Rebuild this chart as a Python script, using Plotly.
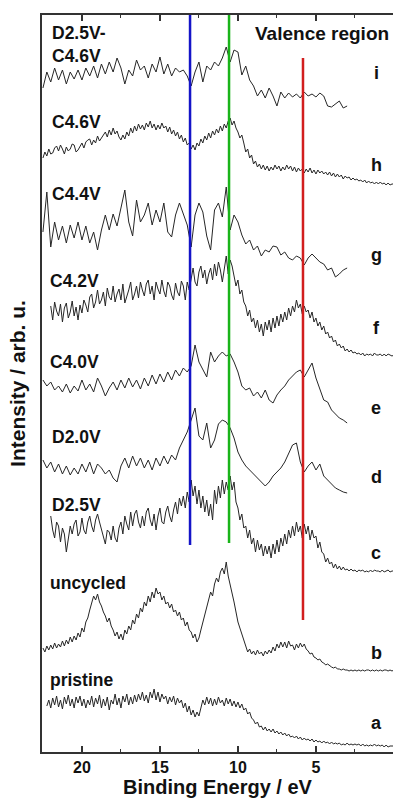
import plotly.graph_objects as go

# Binding energy grids (eV)
energy_coarse = [round(22.5 - 0.25 * k, 3) for k in range(91)]    # 0.25 eV steps
energy_fine = [round(22.5 - 0.125 * j, 3) for j in range(181)]    # 0.125 eV steps

# Stacked intensities (arb. u., offset for display), top to bottom
i_d25_c46 = [664, 680, 670, 684, 672, 682, 668, 680, 673, 682, 672, 684, 676, 686, 674, 688, 678, 690, 680, 694,
             684, 668, 682, 676, 692, 682, 686, 674, 688, 680, 695, 678, 688, 676, 684, 680, 682, 676, 666, 680,
             690, 670, 686, 682, 690, 686, 694, 705, 690, 702, 700, 677, 686, 672, 666, 656, 662, 654, 664, 656,
             646, 660, 654, 659, 655, 658, 654, 660, 656, 658, 655, 659, 656, 646, 645, 648, 651, 644, 646]
h_c46 = [594, 600, 596, 603, 598, 599, 604, 606, 601, 607, 603, 598, 605, 601, 603, 608,
         607, 600, 602, 606, 609, 604, 610, 612, 613, 607, 612, 609, 616, 611, 614, 618,
         620, 615, 622, 617, 624, 618, 621, 615, 612, 617, 613, 620, 616, 624, 619, 626,
         621, 628, 623, 627, 622, 629, 625, 631, 624, 628, 622, 627, 623, 629, 624, 626,
         620, 625, 618, 622, 616, 620, 613, 617, 610, 614, 607, 609, 603, 607, 602, 609,
         606, 613, 609, 616, 612, 619, 614, 621, 617, 623, 619, 626, 621, 628, 624, 631,
         634, 627, 631, 624, 620, 614, 617, 609, 600, 603, 594, 597, 588, 591, 585, 588,
         583, 587, 582, 586, 581, 585, 582, 587, 583, 586, 581, 585, 582, 587, 583, 586,
         581, 585, 580, 584, 581, 583, 579, 583, 580, 584, 579, 582, 578, 582, 579, 581,
         578, 580, 577, 580, 576, 579, 575, 578, 575, 577, 573, 576, 574, 575, 572, 574,
         572, 573, 571, 572, 570, 572, 569, 571, 569, 570, 568, 570, 568, 570, 568, 569,
         567, 569, 567, 568, 568]
g_c44 = [520, 560, 505, 530, 512, 526, 509, 527, 514, 530, 512, 526, 509, 520, 502, 522, 537, 522, 538, 526,
         544, 562, 530, 516, 552, 530, 537, 549, 527, 542, 530, 549, 520, 515, 537, 549, 538, 527, 505, 537,
         549, 540, 516, 502, 542, 549, 535, 565, 522, 537, 530, 517, 508, 512, 502, 506, 496, 502, 500, 506,
         505, 497, 500, 494, 492, 496, 494, 487, 494, 498, 494, 490, 488, 482, 484, 475, 478, 482, 484]
f_c42 = [None, None, None, None,
         446, 432, 450, 441, 436, 448, 430, 444, 449, 434, 440, 451, 436, 445, 432, 447,
         439, 452, 447, 440, 455, 458, 444, 450, 462, 448, 452, 460, 446, 464, 455, 452,
         466, 450, 458, 463, 452, 468, 449, 455, 462, 470, 452, 458, 466, 454, 470, 462,
         456, 468, 472, 458, 466, 452, 470, 463, 458, 472, 461, 455, 470, 466, 457, 452,
         469, 460, 456, 471, 466, 452, 470, 462, 472, 484, 470, 466, 480, 486, 474, 482,
         468, 478, 484, 472, 488, 476, 490, 482, 470, 486, 496, 478, 492, 486, 474, 466,
         472, 458, 462, 450, 446, 436, 442, 430, 434, 424, 432, 420, 428, 416, 430, 422,
         432, 420, 434, 424, 436, 426, 438, 430, 440, 432, 444, 436, 446, 440, 452, 444,
         448, 438, 446, 440, 442, 434, 440, 430, 434, 426, 430, 422, 426, 418, 420, 414,
         416, 410, 412, 406, 408, 404, 406, 401, 403, 400, 402, 399, 400, 398, 399, 397,
         399, 396, 398, 397, 398, 396, 399, 397, 397, 398, 396, 398, 396, 398, 397, 396,
         397]
e_c40 = [372, 366, 370, 362, 366, 360, 368, 359, 366, 361, 372, 362, 368, 360, 374, 366, 356, 364, 370, 362,
         372, 364, 374, 365, 372, 363, 374, 366, 377, 368, 378, 370, 380, 372, 382, 376, 384, 380, 386, 407,
         390, 382, 375, 400, 390, 396, 400, 396, 398, 390, 380, 366, 362, 364, 356, 360, 354, 362, 352, 349,
         357, 362, 366, 372, 376, 380, 382, 375, 382, 389, 374, 364, 352, 350, 342, 338, 334, 332, 329]
d_d20 = [292, 284, 290, 280, 288, 278, 286, 277, 284, 278, 288, 280, 290, 278, 288, 284, 278, 282, 274, 270,
         286, 294, 284, 296, 286, 294, 284, 292, 282, 294, 286, 296, 288, 297, 292, 304, 312, 320, 332, 344,
         316, 312, 329, 304, 312, 328, 332, 330, 324, 314, 300, 292, 286, 282, 278, 274, 270, 266, 270, 276,
         280, 284, 290, 298, 307, 309, 290, 280, 286, 290, 282, 288, 276, 272, 268, 264, 262, 260, 259]
c_d25 = [None, None, None, None,
         236, 222, 214, 230, 226, 210, 224, 218, 200, 212, 226, 218, 228, 232, 216, 220,
         234, 222, 218, 230, 236, 226, 220, 232, 238, 230, 222, 215, 208, 222, 220, 212,
         226, 214, 210, 224, 230, 218, 236, 228, 222, 240, 226, 238, 242, 230, 224, 236,
         226, 240, 244, 232, 226, 238, 222, 236, 244, 230, 228, 240, 246, 236, 230, 242,
         250, 238, 254, 246, 256, 244, 260, 250, 272, 256, 266, 248, 262, 244, 256, 240,
         252, 236, 248, 232, 262, 248, 266, 254, 272, 258, 270, 262, 276, 262, 270, 250,
         244, 232, 238, 224, 226, 214, 222, 208, 214, 200, 212, 202, 208, 196, 206, 198,
         206, 194, 208, 198, 212, 200, 214, 206, 218, 208, 222, 214, 226, 216, 230, 220,
         226, 214, 228, 218, 226, 212, 222, 214, 216, 204, 210, 200, 198, 190, 194, 188,
         190, 184, 188, 183, 186, 182, 185, 182, 183, 181, 183, 181, 182, 180, 182, 181,
         182, 180, 181, 180, 182, 180, 182, 181, 181, 180, 182, 180, 181, 182, 180, 181,
         181]
b_uncycled = [104, 100, 106, 102, 107, 103, 109, 104, 108, 105, 111, 106, 112, 108, 115, 110,
              116, 112, 119, 115, 124, 120, 130, 134, 142, 148, 156, 152, 158, 150, 146, 140,
              136, 130, 134, 126, 122, 116, 120, 113, 118, 112, 122, 118, 126, 122, 132, 128,
              138, 134, 144, 140, 150, 146, 156, 150, 160, 154, 164, 158, 160, 152, 156, 148,
              150, 144, 148, 140, 142, 136, 140, 132, 134, 126, 130, 122, 120, 114, 118, 110,
              114, 122, 130, 138, 146, 152, 160, 156, 168, 174, 170, 180, 184, 178, 190, 176,
              168, 158, 150, 140, 130, 124, 118, 110, 104, 100, 103, 98, 101, 97, 102, 98,
              100, 96, 101, 98, 102, 99, 105, 101, 108, 104, 110, 105, 110, 104, 111, 106,
              107, 102, 108, 104, 109, 105, 108, 103, 101, 98, 99, 95, 94, 92, 93, 90,
              89, 87, 88, 86, 85, 84, 85, 83, 83, 82, 83, 82, 82, 81, 82, 81,
              82, 81, 82, 81, 82, 81, 82, 82, 81, 82, 81, 82, 81, 82, 81, 82,
              82, 81, 82, 81, 82]
a_pristine = [None, None, 46, 52,
              44, 54, 47, 56, 45, 52, 43, 55, 48, 57, 46, 53, 44, 55, 49, 56,
              46, 53, 44, 52, 47, 56, 45, 54, 48, 57, 44, 53, 46, 55, 42, 52,
              48, 58, 47, 54, 44, 56, 50, 58, 47, 55, 48, 57, 50, 58, 52, 60,
              51, 57, 49, 60, 54, 63, 52, 60, 50, 58, 53, 56, 48, 55, 50, 56,
              47, 54, 49, 52, 44, 49, 40, 46, 37, 42, 35, 40, 36, 44, 52, 47,
              55, 48, 54, 46, 53, 47, 55, 49, 52, 46, 54, 48, 53, 46, 51, 45,
              50, 44, 48, 42, 44, 38, 40, 34, 32, 28, 30, 25, 26, 22, 25, 21,
              23, 20, 23, 19, 21, 18, 20, 17, 19, 16, 18, 15, 16, 14, 16, 13,
              15, 12, 14, 12, 13, 11, 13, 10, 12, 10, 11, 9, 11, 9, 10, 8,
              10, 8, 9, 8, 9, 7, 8, 7, 9, 7, 8, 7, 8, 7, 8, 6,
              8, 6, 7, 6, 7, 6, 8, 6, 7, 6, 7, 5, 7, 5, 6, 6,
              6]

series = [i_d25_c46, h_c46, g_c44, f_c42, e_c40, d_d20, c_d25, b_uncycled, a_pristine]
sample_names = ["D2.5V-<br>C4.6V", "C4.6V", "C4.4V", "C4.2V", "C4.0V", "D2.0V", "D2.5V", "uncycled", "pristine"]
letters = ["i", "h", "g", "f", "e", "d", "c", "b", "a"]

# Marker lines (eV) and their vertical extent (arb. u.)
marker_energies = [13.07, 10.57, 5.83]
marker_colors = ["#1414c8", "#19b419", "#d21e1e"]
marker_y0 = [207, 209, 132]
marker_y1 = [740, 740, 694]

FONT = "Liberation Sans, Arial"

fig = go.Figure()
for vals, name in zip(series, letters):
    grid = energy_fine if len(vals) == len(energy_fine) else energy_coarse[:len(vals)]
    fig.add_trace(go.Scatter(x=grid, y=vals, mode="lines",
                             line=dict(color="#262626", width=1), name=name,
                             showlegend=False, hoverinfo="skip"))

for xe, col, y0, y1 in zip(marker_energies, marker_colors, marker_y0, marker_y1):
    fig.add_shape(type="line", x0=xe, x1=xe, y0=y0, y1=y1, xref="x", yref="y",
                  line=dict(color=col, width=2.5), layer="above")

font_b = dict(family=FONT, size=17.5, color="#111", weight="bold")

# sample labels (left)
name_pos = [(22.03, 708), (22.03, 630), (22.03, 558), (22.2, 471), (22.2, 390),
            (22.03, 315), (22.03, 247), (22.2, 169), (22.15, 72)]
for (xx, yy), t in zip(name_pos, sample_names):
    fig.add_annotation(x=xx, y=yy, text=t, showarrow=False, xanchor="left", yanchor="middle",
                       align="left", font=font_b)

letter_y = [679, 587, 497, 424, 344, 275, 199, 99, 29]
for yy, t in zip(letter_y, letters):
    fig.add_annotation(x=1.15, y=yy, text=t, showarrow=False, xanchor="center", yanchor="middle",
                       font=dict(family=FONT, size=18, color="#111", weight="bold"))

fig.add_annotation(x=0.2, y=719, text="Valence region", showarrow=False, xanchor="right",
                   yanchor="middle", font=dict(family=FONT, size=19, color="#111", weight="bold"))

fig.update_layout(
    width=393, height=803,
    margin=dict(l=42, r=0, t=15, b=51),
    paper_bgcolor="white", plot_bgcolor="white",
    xaxis=dict(range=[22.56, 0.06], showgrid=False, zeroline=False,
               showline=True, linecolor="#333", linewidth=1.5, mirror="ticks",
               ticks="inside", ticklen=6, tickwidth=1.5, tickcolor="#333",
               tickvals=[20, 15, 10, 5], ticktext=["20", "15", "10", "5"],
               minor=dict(tickvals=[17.5, 12.5, 7.5, 2.5], ticks="inside", ticklen=3,
                          tickwidth=1.2, tickcolor="#333"),
               tickfont=dict(family=FONT, size=16, color="#111", weight="bold"),
               title=dict(text="Binding Energy / eV", standoff=5,
                          font=dict(family=FONT, size=20, color="#111", weight="bold"))),
    yaxis=dict(range=[0, 737], showgrid=False, zeroline=False, showticklabels=False,
               showline=True, linecolor="#333", linewidth=1.5, ticks="",
               title=dict(text="Intensity / arb. u.", standoff=9,
                          font=dict(family=FONT, size=21, color="#111", weight="bold"))),
)

fig.write_html("out.html")
